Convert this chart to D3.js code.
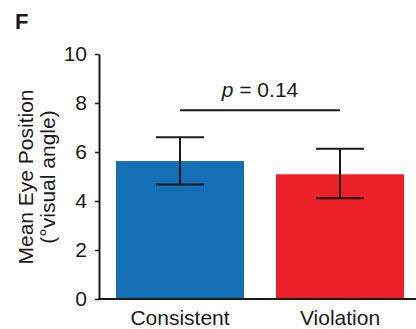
<!DOCTYPE html>
<html>
<head>
<meta charset="utf-8">
<script src="https://cdn.jsdelivr.net/npm/d3@7"></script>
<style>
  body { margin: 0; background: #fff; }
  svg text { font-family: "Liberation Sans", Arial, sans-serif; fill: #1a1a1a; }
</style>
</head>
<body>
<svg id="chart" width="416" height="329"></svg>
<script>
const categories = ["Consistent", "Violation"];
const means = [5.63, 5.09];
const errLow = [4.67, 4.11];
const errHigh = [6.6, 6.13];
const colors = ["#156fb7", "#ec2127"];
const yTicks = [0, 2, 4, 6, 8, 10];
const sigLevel = 7.7;
const sigLabel = "0.14";

const svg = d3.select("#chart");

const x = d3.scaleBand()
    .domain(categories)
    .range([100, 420])
    .paddingInner(0.2)
    .paddingOuter(0.1);

const y = d3.scaleLinear()
    .domain([0, 10])
    .range([299, 54]);

// bars
svg.selectAll(".bar")
    .data(categories)
    .enter().append("rect")
    .attr("class", "bar")
    .attr("x", d => x(d))
    .attr("width", x.bandwidth())
    .attr("y", (d, i) => y(means[i]))
    .attr("height", (d, i) => y(0) - y(means[i]))
    .attr("fill", (d, i) => colors[i]);

// error bars
const capW = 48;
const eb = svg.selectAll(".err")
    .data(categories)
    .enter().append("g")
    .attr("class", "err")
    .attr("stroke", "#1a1a1a")
    .attr("stroke-width", 2);

eb.append("line")
    .attr("x1", d => x(d) + x.bandwidth() / 2)
    .attr("x2", d => x(d) + x.bandwidth() / 2)
    .attr("y1", (d, i) => y(errLow[i]))
    .attr("y2", (d, i) => y(errHigh[i]));

eb.append("line")
    .attr("x1", d => x(d) + x.bandwidth() / 2 - capW / 2)
    .attr("x2", d => x(d) + x.bandwidth() / 2 + capW / 2)
    .attr("y1", (d, i) => y(errHigh[i]))
    .attr("y2", (d, i) => y(errHigh[i]));

eb.append("line")
    .attr("x1", d => x(d) + x.bandwidth() / 2 - capW / 2)
    .attr("x2", d => x(d) + x.bandwidth() / 2 + capW / 2)
    .attr("y1", (d, i) => y(errLow[i]))
    .attr("y2", (d, i) => y(errLow[i]));

// y axis
const yAxis = svg.append("g")
    .attr("transform", "translate(99,0)")
    .call(d3.axisLeft(y).tickValues(yTicks).tickSize(4).tickSizeOuter(0).tickPadding(8));
yAxis.select(".domain").attr("stroke", "#1a1a1a").attr("stroke-width", 2);
yAxis.selectAll(".tick line").attr("stroke", "#1a1a1a").attr("stroke-width", 1.5);
yAxis.selectAll(".tick text")
    .attr("font-size", 21)
    .attr("font-family", "Liberation Sans, Arial, sans-serif")
    .attr("fill", "#1a1a1a");

// x axis line
svg.append("line")
    .attr("x1", 98).attr("x2", 416)
    .attr("y1", y(0)).attr("y2", y(0))
    .attr("stroke", "#1a1a1a")
    .attr("stroke-width", 2);

svg.selectAll(".xlab")
    .data(categories)
    .enter().append("text")
    .attr("class", "xlab")
    .attr("x", d => x(d) + x.bandwidth() / 2)
    .attr("y", 325)
    .attr("text-anchor", "middle")
    .attr("font-size", 21)
    .text(d => d);

// significance bracket
const c0 = x(categories[0]) + x.bandwidth() / 2;
const c1 = x(categories[1]) + x.bandwidth() / 2;
svg.append("line")
    .attr("x1", c0).attr("x2", c1)
    .attr("y1", y(sigLevel)).attr("y2", y(sigLevel))
    .attr("stroke", "#1a1a1a")
    .attr("stroke-width", 2);

const sig = svg.append("text")
    .attr("x", (c0 + c1) / 2)
    .attr("y", y(sigLevel) - 13)
    .attr("text-anchor", "middle")
    .attr("font-size", 21);
sig.append("tspan").attr("font-style", "italic").text("p");
sig.append("tspan").text(" = " + sigLabel);

// y title
const yt = svg.append("text")
    .attr("transform", "translate(0,177) rotate(-90)")
    .attr("text-anchor", "middle")
    .attr("font-size", 21);
yt.append("tspan").attr("x", 0).attr("y", 33).text("Mean Eye Position");
yt.append("tspan").attr("x", 0).attr("y", 55).text("(\u00b0visual angle)");

// panel letter
svg.append("text")
    .attr("x", 15)
    .attr("y", 29)
    .attr("font-size", 22)
    .attr("font-weight", "bold")
    .text("F");
</script>
</body>
</html>
